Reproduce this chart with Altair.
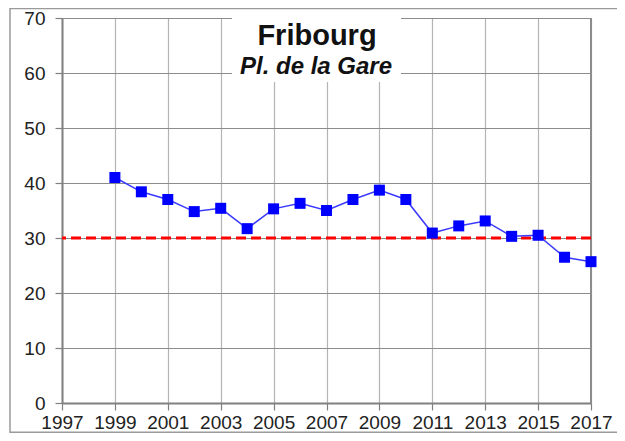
import altair as alt
import pandas as pd

years = list(range(1999, 2018))
values = [41.0, 38.4, 37.0, 34.8, 35.4, 31.7, 35.3, 36.3, 35.0, 37.0,
          38.7, 37.0, 30.9, 32.2, 33.1, 30.3, 30.5, 26.5, 25.7]
limit = 30
title_main = "Fribourg"
title_sub = "Pl. de la Gare"
x_ticks = list(range(1997, 2018))
y_ticks = list(range(0, 71, 10))

FONT = "Liberation Sans"
df = pd.DataFrame({"year": years, "value": values})

W, H = 529, 385

xs = alt.Scale(domain=[1997, 2017], nice=False, zero=False)
ys = alt.Scale(domain=[0, 70], nice=False)

x_axis = alt.Axis(values=x_ticks, format="d",
                  labelExpr="datum.value % 2 == 1 ? datum.label : ''",
                  grid=True, gridColor="#b4b4b4", gridWidth=1.2,
                  domainColor="#808080", domainWidth=2,
                  tickColor="#808080", tickWidth=1.2, tickSize=7,
                  labelFont=FONT, labelFontSize=19, labelColor="#222222",
                  labelBaseline="alphabetic",
                  labelPadding=18, labelFlush=False, labelOverlap=False, title=None)
y_axis = alt.Axis(values=y_ticks,
                  grid=True, gridColor="#8c8c8c", gridWidth=1.2,
                  domainColor="#808080", domainWidth=2,
                  tickColor="#808080", tickWidth=1.2, tickSize=7,
                  labelFont=FONT, labelFontSize=19, labelColor="#222222",
                  labelPadding=10, title=None)

base = alt.Chart(df)

axes_layer = base.mark_point(opacity=0).encode(
    x=alt.X("year:Q", scale=xs, axis=x_axis),
    y=alt.Y("value:Q", scale=ys, axis=y_axis),
)

right_border = alt.Chart(pd.DataFrame({"x": [2017]})).mark_rule(
    color="#8c8c8c", strokeWidth=2).encode(x=alt.X("x:Q", scale=xs))

frame = alt.Chart(pd.DataFrame({"a": [0]})).mark_rect(
    fill=None, stroke="#9a9a9a", strokeWidth=1.5, clip=False).encode(
    x=alt.value(-52), x2=alt.value(600), y=alt.value(-9.5), y2=alt.value(414.3))

limit_rule = alt.Chart(pd.DataFrame({"y": [limit]})).mark_rule(
    color="#ff0000", strokeWidth=3, strokeDash=[10, 5]).encode(
    y=alt.Y("y:Q", scale=ys))

line = base.mark_line(color="#3a3aff", strokeWidth=1.5).encode(
    x=alt.X("year:Q", scale=xs), y=alt.Y("value:Q", scale=ys))
points = base.mark_point(shape="square", filled=True, size=121,
                         color="#0000ff", opacity=1).encode(
    x=alt.X("year:Q", scale=xs), y=alt.Y("value:Q", scale=ys))

title_box = alt.Chart(pd.DataFrame({"a": [0]})).mark_rect(
    fill="white", stroke=None).encode(
    x=alt.value(170), x2=alt.value(339), y=alt.value(-1), y2=alt.value(64))

t1 = alt.Chart(pd.DataFrame({"t": [title_main]})).mark_text(
    font=FONT, fontSize=29, fontWeight="bold", color="#111111",
    align="center", baseline="alphabetic").encode(
    x=alt.value(255), y=alt.value(26.5), text="t:N")
t2 = alt.Chart(pd.DataFrame({"t": [title_sub]})).mark_text(
    font=FONT, fontSize=24, fontWeight="bold", fontStyle="italic",
    color="#111111", align="center", baseline="alphabetic").encode(
    x=alt.value(254), y=alt.value(55.5), text="t:N")

chart = alt.layer(
    axes_layer, frame, right_border, limit_rule, line, points, title_box, t1, t2
).properties(
    width=W, height=H,
    autosize=alt.AutoSizeParams(type="none"),
    padding={"left": 54, "top": 10, "right": 26, "bottom": 30},
    background="white",
).configure_view(stroke=None)

chart.save("out.html", embed_options={"renderer": "svg", "actions": False})
